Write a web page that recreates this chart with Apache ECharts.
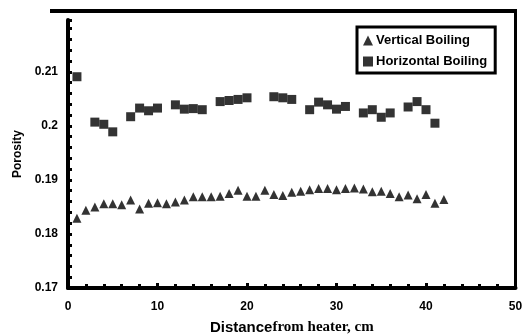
<!DOCTYPE html>
<html>
<head>
<meta charset="utf-8">
<script src="https://cdn.jsdelivr.net/npm/echarts@6/dist/echarts.min.js"></script>
<style>
  html, body { margin: 0; padding: 0; background: #fff; }
  #chart { width: 524px; height: 336px; }
</style>
</head>
<body>
<div id="chart"></div>
<script>
// distance from heater (cm)
var verticalX = [1, 2, 3, 4, 5, 6, 7, 8, 9, 10, 11, 12, 13, 14, 15, 16, 17, 18, 19, 20, 21,
  22, 23, 24, 25, 26, 27, 28, 29, 30, 31, 32, 33, 34, 35, 36, 37, 38, 39, 40, 41, 42]
var verticalY = [0.1829, 0.1844, 0.1850, 0.1856, 0.1856, 0.1854, 0.1863, 0.1846, 0.1857, 0.1858, 0.1856,
  0.1859, 0.1863, 0.1869, 0.1869, 0.1869, 0.1870, 0.1875, 0.1881, 0.1870, 0.1870,
  0.1881, 0.1873, 0.1871, 0.1877, 0.1879, 0.1882, 0.1884, 0.1884, 0.1882, 0.1884,
  0.1885, 0.1883, 0.1878, 0.1879, 0.1875, 0.1869, 0.1872, 0.1865, 0.1873, 0.1857, 0.1864]

var horizontalX = [1, 3, 4, 5, 7, 8, 9, 10, 12, 13, 14, 15, 17, 18, 19, 20,
  23, 24, 25, 27, 28, 29, 30, 31, 33, 34, 35, 36, 38, 39, 40, 41]
var horizontalY = [0.2091, 0.2007, 0.2003, 0.1989, 0.2017, 0.2033, 0.2028, 0.2033, 0.2039, 0.2031, 0.2032, 0.2030,
  0.2045, 0.2047, 0.2049, 0.2052, 0.2054, 0.2052, 0.2049, 0.2030, 0.2044, 0.2039,
  0.2031, 0.2036, 0.2024, 0.2030, 0.2016, 0.2024, 0.2035, 0.2045, 0.2030, 0.2005]

var yTickLabels = ['0.17', '0.18', '0.19', '0.2', '0.21']
var xTickLabels = ['0', '10', '20', '30', '40', '50']

function pairs(xs, ys) {
  var out = []
  xs.forEach(function (x, i) {
    out.push([x, ys[i]])
  })
  return out
}

var sans = '"Liberation Sans", Arial, sans-serif'
var serif = '"Liberation Serif", "Times New Roman", serif'

var chart = echarts.init(document.getElementById('chart'), null, { renderer: 'canvas' })

var option = {
  animation: false,
  backgroundColor: '#fff',
  grid: {
    left: 68,
    right: 8.5,
    top: 20,
    bottom: 48,
    outerBoundsMode: 'none'
  },
  legend: {
    orient: 'vertical',
    left: 357,
    top: 27,
    padding: [7, 8, 5, 6],
    itemGap: 8,
    itemWidth: 10,
    itemHeight: 10,
    borderColor: '#000',
    borderWidth: 3,
    borderRadius: 0,
    textStyle: {
      color: '#000',
      fontFamily: sans,
      fontWeight: 'bold',
      fontSize: 13,
      padding: [0, 0, 0, -2]
    },
    data: ['Vertical Boiling', 'Horizontal Boiling']
  },
  xAxis: {
    type: 'value',
    min: 0,
    max: 50,
    interval: 10,
    name: '{a|Distance}{b|from heater, cm}',
    nameLocation: 'middle',
    nameGap: 30,
    nameTextStyle: {
      rich: {
        a: { fontFamily: sans, fontWeight: 'bold', fontSize: 15, color: '#000', verticalAlign: 'bottom', lineHeight: 17 },
        b: { fontFamily: serif, fontWeight: 'bold', fontSize: 15, color: '#000', verticalAlign: 'bottom', lineHeight: 17 }
      }
    },
    axisLine: { lineStyle: { color: '#000', width: 4 } },
    axisTick: { inside: true, length: 5, lineStyle: { color: '#000', width: 3 } },
    minorTick: { show: true, splitNumber: 5, length: 4, lineStyle: { color: '#000', width: 3 } },
    splitLine: { show: false },
    axisLabel: {
      color: '#000',
      fontFamily: sans,
      fontWeight: 'bold',
      fontSize: 12,
      margin: 13,
      formatter: function (v) {
        var s = String(v)
        return xTickLabels.indexOf(s) >= 0 ? s : ''
      }
    }
  },
  yAxis: {
    type: 'value',
    min: 0.17,
    max: 0.2196,
    interval: 0.01,
    name: 'Porosity',
    nameLocation: 'middle',
    nameGap: 43,
    nameTextStyle: {
      color: '#000',
      fontFamily: sans,
      fontWeight: 'bold',
      fontSize: 12
    },
    axisLine: { lineStyle: { color: '#000', width: 4 } },
    axisTick: { inside: true, length: 4, lineStyle: { color: '#000', width: 3 } },
    minorTick: { show: true, splitNumber: 5, length: 4, lineStyle: { color: '#000', width: 3 } },
    splitLine: { show: false },
    axisLabel: {
      color: '#000',
      fontFamily: sans,
      fontWeight: 'bold',
      fontSize: 12,
      margin: 10,
      formatter: function (v) {
        var s = String(+v.toFixed(4))
        return yTickLabels.indexOf(s) >= 0 ? s : ''
      }
    }
  },
  // frame lines at the top and right of the plot
  graphic: [
    {
      type: 'line',
      shape: { x1: 50, y1: 11, x2: 517, y2: 11 },
      style: { stroke: '#000', lineWidth: 4 }
    },
    {
      type: 'line',
      shape: { x1: 515.5, y1: 11, x2: 515.5, y2: 285 },
      style: { stroke: '#000', lineWidth: 3 }
    }
  ],
  series: [
    {
      name: 'Vertical Boiling',
      type: 'scatter',
      symbol: 'triangle',
      symbolSize: [9, 9],
      itemStyle: { color: '#000' },
      data: pairs(verticalX, verticalY)
    },
    {
      name: 'Horizontal Boiling',
      type: 'scatter',
      symbol: 'rect',
      symbolSize: 9,
      itemStyle: { color: '#000' },
      data: pairs(horizontalX, horizontalY)
    }
  ]
}

chart.setOption(option)
</script>
</body>
</html>
